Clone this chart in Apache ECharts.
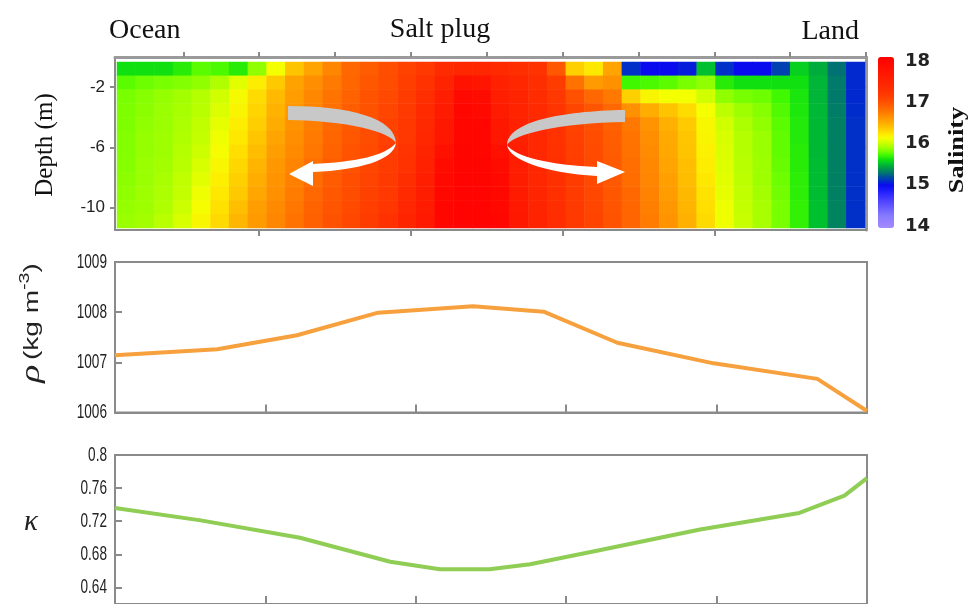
<!DOCTYPE html>
<html><head><meta charset="utf-8">
<script src="https://cdn.jsdelivr.net/npm/echarts@6/dist/echarts.min.js"></script>
<style>html,body{margin:0;padding:0;background:#fff}#c{width:969px;height:604px}</style>
</head><body><div id="c"></div>
<script>
// ---------- Salinity section (rows top -> bottom, 40 columns ocean -> land) ----------
const salRow01 = [15.6,15.6,15.6,15.65,15.75,15.72,15.65,15.85,16.1,16.35,16.5,16.65,16.8,16.88,16.96,17.05,17.13,17.29,17.35,17.35,17.3,17.25,17.2,16.9,16.3,16.2,16.5,15.1,15.0,15.0,15.05,15.5,15.1,15.0,15.0,15.15,15.55,15.45,15.28,15.08];
const salRow02 = [15.75,15.78,15.8,15.82,15.85,15.92,16.05,16.18,16.33,16.51,16.61,16.71,16.81,16.91,16.97,17.08,17.2,17.4,17.7,17.65,17.45,17.35,17.25,17.1,16.75,16.55,16.6,15.7,15.72,15.75,15.8,15.85,15.65,15.6,15.6,15.6,15.6,15.47,15.3,15.08];
const salRow03 = [15.8,15.83,15.86,15.89,15.93,16.0,16.12,16.25,16.39,16.54,16.64,16.74,16.84,16.93,17.0,17.1,17.25,17.5,17.85,17.8,17.5,17.4,17.28,17.15,16.95,16.8,16.72,16.3,16.15,16.1,16.1,16.0,15.85,15.8,15.78,15.7,15.62,15.47,15.3,15.08];
const salRow04 = [15.81,15.84,15.87,15.9,15.94,16.03,16.15,16.28,16.43,16.56,16.66,16.76,16.86,16.94,17.02,17.12,17.3,17.55,17.88,17.85,17.55,17.42,17.3,17.18,17.02,16.92,16.8,16.6,16.45,16.35,16.25,16.1,15.95,15.88,15.83,15.73,15.63,15.48,15.31,15.09];
const salRow05 = [15.81,15.85,15.87,15.91,15.96,16.06,16.18,16.31,16.46,16.59,16.69,16.79,16.89,16.96,17.05,17.14,17.32,17.6,17.9,17.88,17.6,17.45,17.32,17.2,17.05,16.95,16.85,16.72,16.58,16.44,16.32,16.13,16.0,15.91,15.85,15.75,15.64,15.48,15.32,15.1];
const salRow06 = [15.82,15.86,15.88,15.92,15.97,16.09,16.2,16.34,16.5,16.61,16.71,16.81,16.91,16.97,17.07,17.15,17.35,17.62,17.9,17.9,17.62,17.46,17.33,17.2,17.07,16.97,16.87,16.74,16.61,16.47,16.34,16.15,16.02,15.93,15.87,15.76,15.64,15.48,15.32,15.1];
const salRow07 = [15.82,15.86,15.88,15.93,15.99,16.11,16.24,16.38,16.53,16.63,16.73,16.83,16.93,16.99,17.09,17.18,17.4,17.72,17.92,17.9,17.72,17.48,17.34,17.21,17.08,16.98,16.88,16.75,16.62,16.48,16.35,16.16,16.03,15.93,15.87,15.76,15.65,15.48,15.32,15.1];
const salRow08 = [15.83,15.87,15.89,15.94,16.02,16.14,16.27,16.42,16.56,16.66,16.76,16.86,16.94,17.02,17.1,17.2,17.45,17.82,17.92,17.92,17.8,17.5,17.35,17.22,17.09,16.99,16.89,16.77,16.64,16.5,16.37,16.18,16.04,15.94,15.88,15.77,15.65,15.49,15.32,15.1];
const salRow09 = [15.84,15.87,15.9,15.96,16.05,16.17,16.3,16.45,16.58,16.68,16.78,16.88,16.96,17.04,17.12,17.25,17.5,17.85,17.93,17.92,17.85,17.52,17.36,17.23,17.1,17.0,16.9,16.78,16.65,16.52,16.38,16.2,16.05,15.95,15.88,15.78,15.66,15.49,15.32,15.1];
const salRow10 = [15.85,15.88,15.91,15.97,16.08,16.2,16.33,16.49,16.6,16.7,16.8,16.9,16.97,17.06,17.13,17.3,17.52,17.87,17.93,17.93,17.86,17.55,17.38,17.24,17.11,17.01,16.91,16.8,16.67,16.54,16.4,16.22,16.06,15.96,15.89,15.79,15.66,15.49,15.32,15.1];
const salRow11 = [15.86,15.88,15.92,15.99,16.11,16.23,16.37,16.53,16.63,16.73,16.83,16.92,16.99,17.08,17.16,17.35,17.55,17.88,17.94,17.93,17.87,17.58,17.4,17.25,17.12,17.02,16.92,16.81,16.68,16.56,16.42,16.24,16.08,15.97,15.9,15.8,15.67,15.5,15.33,15.1];
const salRow12 = [15.87,15.89,15.94,16.02,16.14,16.26,16.41,16.55,16.65,16.75,16.85,16.94,17.01,17.1,17.21,17.4,17.58,17.88,17.94,17.93,17.88,17.6,17.42,17.26,17.13,17.03,16.93,16.82,16.7,16.58,16.44,16.26,16.09,15.98,15.9,15.8,15.67,15.5,15.33,15.1];
const salinityRows = [salRow01,salRow02,salRow03,salRow04,salRow05,salRow06,salRow07,salRow08,salRow09,salRow10,salRow11,salRow12];

// depth tick labels (m) and salinity colour-bar ticks
const depthTicks = [-2, -6, -10];
const salinityTicks = [14, 15, 16, 17, 18];

// ---------- Density profile ----------
const rhoX    = [0, 0.68, 1.21, 1.75, 2.38, 2.85, 3.34, 3.98, 4.67, 5];
const rhoVals = [1007.14, 1007.26, 1007.54, 1007.99, 1008.12, 1008.01, 1007.39, 1006.98, 1006.67, 1006.03];
const rhoTicks = [1006, 1007, 1008, 1009];

// ---------- Kappa profile ----------
const kappaX    = [0, 0.57, 1.23, 1.83, 2.16, 2.49, 2.76, 3.22, 3.89, 4.55, 4.85, 5];
const kappaVals = [0.736, 0.721, 0.700, 0.671, 0.662, 0.662, 0.668, 0.685, 0.710, 0.730, 0.751, 0.772];
const kappaTicks = [0.64, 0.68, 0.72, 0.76, 0.8];

const salColors = ['#a58cff','#9c84ff','#9080ff','#8478ff','#7468ff','#6458ff','#5448ff','#4038ff','#2c28ff','#1818f8',
 '#0a0aef','#0030c8','#00509a','#007a6a','#009a48','#00c030','#10e010','#40f800','#78ff00','#a8ff00',
 '#d0ff00','#f4ff00','#ffe800','#ffd000','#ffb800','#ffa400','#ff9000','#ff7c00','#ff6800','#ff5800',
 '#ff4800','#ff3c00','#ff3200','#ff2a00','#ff2400','#ff1e00','#ff1800','#ff1200','#ff0c00','#ff0600','#ff0000'];

const nCols = salinityRows[0].length, nRows = salinityRows.length;
const colCats = Array.from({length:nCols}, (_, i) => String(i));
const rowCats = Array.from({length:nRows}, (_, i) => String(i));
const heatData = [];
salinityRows.forEach((row, r) => row.forEach((v, c) => heatData.push([c, r, v])));

// decorative circulation arrows (annotation shapes, not data)
const G = echarts.graphic;
G.registerShape('arrowGrayL', G.extendPath('M288,106 C350,106 395,118 396,143 C390,132 350,121 288,120 Z', {}));
G.registerShape('arrowWhiteL', G.extendPath('M396,143 C394,160 360,170 313,172 L313,186 L289,174 L313,161 L313,164 C355,162 385,156 396,143 Z', {}));
G.registerShape('arrowGrayR', G.extendPath('M625,110 C560,111 508,122 507,145 C513,134 560,123 625,122 Z', {}));
G.registerShape('arrowWhiteR', G.extendPath('M507,145 C509,160 545,173 597,176 L597,184 L625,172 L597,161 L597,167 C550,165 515,157 507,145 Z', {}));

const gray = '#8a8a8a';
const noZero = (o) => Object.assign({onZero:false}, o);

const chart = echarts.init(document.getElementById('c'), null, {renderer:'canvas'});
chart.setOption({
  animation:false,
  backgroundColor:'#fff',
  grid:[
    {left:115, top:57, width:751, height:173},
    {left:117, top:62, width:748, height:166},
    {left:115, top:262, width:752, height:150.5, show:true, borderColor:gray, borderWidth:2},
    {left:115, top:455, width:752, height:153, show:true, borderColor:gray, borderWidth:2},
    {left:878, top:61, width:16, height:165}
  ],
  xAxis:[
    {gridIndex:0, type:'value', min:-0.9, max:9, position:'bottom',
     axisLine:noZero({lineStyle:{color:gray, width:2}}), axisTick:{customValues:[1,3,5,7], length:6, lineStyle:{color:gray, width:2}},
     axisLabel:{show:false}, splitLine:{show:false}},
    {gridIndex:0, type:'value', min:-0.9, max:9, position:'top',
     axisLine:noZero({lineStyle:{color:'#9a9a9a', width:3}}), axisTick:{customValues:[0,1,2,3,4,5,6,7,8,9], length:5, lineStyle:{color:gray, width:2}},
     axisLabel:{show:false}, splitLine:{show:false}},
    {gridIndex:1, type:'category', data:colCats, show:false},
    {gridIndex:2, type:'value', min:0, max:5, interval:1,
     axisLine:noZero({lineStyle:{color:gray, width:2}}), axisTick:{inside:true, length:8, lineStyle:{color:gray, width:2}},
     axisLabel:{show:false}, splitLine:{show:false}},
    {gridIndex:3, type:'value', min:0, max:5, interval:1,
     axisLine:noZero({lineStyle:{color:gray, width:2}}), axisTick:{inside:true, length:8, lineStyle:{color:gray, width:2}},
     axisLabel:{show:false}, splitLine:{show:false}},
    {gridIndex:4, type:'value', show:false}
  ],
  yAxis:[
    {gridIndex:0, type:'value', min:-11.5, max:0,
     axisLine:noZero({show:true, lineStyle:{color:gray, width:2}}),
     axisTick:{show:true, customValues:depthTicks, length:5, lineStyle:{color:gray, width:2}},
     axisLabel:{customValues:depthTicks, margin:10, fontFamily:'Liberation Sans, Arial', fontSize:17, color:'#222'},
     splitLine:{show:false}},
    {gridIndex:0, type:'value', min:-11.5, max:0, position:'right',
     axisLine:noZero({show:true, lineStyle:{color:'#9a9a9a', width:3}}),
     axisTick:{show:true, inside:true, customValues:depthTicks, length:5, lineStyle:{color:gray, width:2}},
     axisLabel:{show:false}, splitLine:{show:false}},
    {gridIndex:1, type:'category', data:rowCats, inverse:true, show:false},
    {gridIndex:2, type:'value', min:1006, max:1009, interval:1,
     axisLine:noZero({show:true, lineStyle:{color:gray, width:2}}),
     axisTick:{show:true, inside:true, length:7, lineStyle:{color:gray, width:2}},
     axisLabel:{show:false}, splitLine:{show:false}},
    {gridIndex:3, type:'value', min:0.62, max:0.8,
     axisLine:noZero({show:true, lineStyle:{color:gray, width:2}}),
     axisTick:{show:true, inside:true, length:7, customValues:kappaTicks, lineStyle:{color:gray, width:2}},
     axisLabel:{show:false}, splitLine:{show:false}},
    {gridIndex:4, type:'value', min:14, max:18, interval:1, position:'right',
     axisLine:{show:false}, axisTick:{show:false}, splitLine:{show:false},
     axisLabel:{margin:11, fontFamily:'DejaVu Sans, Liberation Sans, Arial', fontWeight:'bold', fontSize:18, color:'#222'}}
  ],
  visualMap:{type:'continuous', min:14, max:18, seriesIndex:0, calculable:false, realtime:false,
    left:878, top:57, itemWidth:16, itemHeight:171, padding:0,
    inRange:{color:salColors}},
  series:[
    {type:'heatmap', xAxisIndex:2, yAxisIndex:2, data:heatData, progressive:0, emphasis:{disabled:true}},
    {type:'line', xAxisIndex:3, yAxisIndex:3, data:rhoX.map((x,i)=>[x, rhoVals[i]]), showSymbol:false,
     lineStyle:{color:'#f7a03e', width:4}, z:5},
    {type:'line', xAxisIndex:4, yAxisIndex:4, data:kappaX.map((x,i)=>[x, kappaVals[i]]), showSymbol:false,
     lineStyle:{color:'#8fcd55', width:4}, z:5}
  ]
});

// condensed tick labels for the two profile panels, placed through the axes' own scales
const tickLabel = (txt, p) => ({type:'text', x:p[0] - 8, y:p[1], scaleX:0.68,
  style:{text:txt, font:'20px "Liberation Sans", Arial', fill:'#222', textAlign:'right', textVerticalAlign:'middle'}});
const labelEls = [];
rhoTicks.forEach(v => labelEls.push(tickLabel(String(v), chart.convertToPixel({xAxisIndex:3, yAxisIndex:3}, [0, v]))));
kappaTicks.forEach(v => labelEls.push(tickLabel(String(v), chart.convertToPixel({xAxisIndex:4, yAxisIndex:4}, [0, v]))));

chart.setOption({graphic: labelEls.concat([
  {type:'text', x:109, y:31, style:{text:'Ocean', font:'28px "Liberation Serif", serif', fill:'#111', textVerticalAlign:'middle'}},
  {type:'text', x:440, y:30, style:{text:'Salt plug', font:'28px "Liberation Serif", serif', fill:'#111', textAlign:'center', textVerticalAlign:'middle'}},
  {type:'text', x:859, y:32, style:{text:'Land', font:'28px "Liberation Serif", serif', fill:'#111', textAlign:'right', textVerticalAlign:'middle'}},
  {type:'text', x:45, y:145, rotation:Math.PI/2, style:{text:'Depth (m)', font:'25px "Liberation Serif", serif', fill:'#111', textAlign:'center', textVerticalAlign:'middle'}},
  {type:'text', x:957, y:150, rotation:Math.PI/2, scaleX:1.2, style:{text:'Salinity', font:'bold 22px "Liberation Serif", serif', fill:'#111', textAlign:'center', textVerticalAlign:'middle'}},
  {type:'text', x:32, y:323, rotation:Math.PI/2, scaleX:1.4, style:{
    text:'{r|ρ} {t|(kg m}{s|-3}{t|)}', textAlign:'center', textVerticalAlign:'middle',
    rich:{r:{font:'italic 27px "Liberation Serif", serif', fill:'#222'},
          t:{font:'20px "Liberation Sans", Arial', fill:'#222'},
          s:{font:'14px "Liberation Sans", Arial', fill:'#222', verticalAlign:'top', padding:[0,0,9,0]}}}},
  {type:'text', x:31, y:522, style:{text:'κ', font:'italic 29px "Liberation Serif", serif', fill:'#222', textAlign:'center', textVerticalAlign:'middle'}},
  {type:'arrowGrayL', style:{fill:'#c8c8c8'}, z:10},
  {type:'arrowWhiteL', style:{fill:'#ffffff'}, z:10},
  {type:'arrowGrayR', style:{fill:'#c8c8c8'}, z:10},
  {type:'arrowWhiteR', style:{fill:'#ffffff'}, z:10}
])});
</script></body></html>
